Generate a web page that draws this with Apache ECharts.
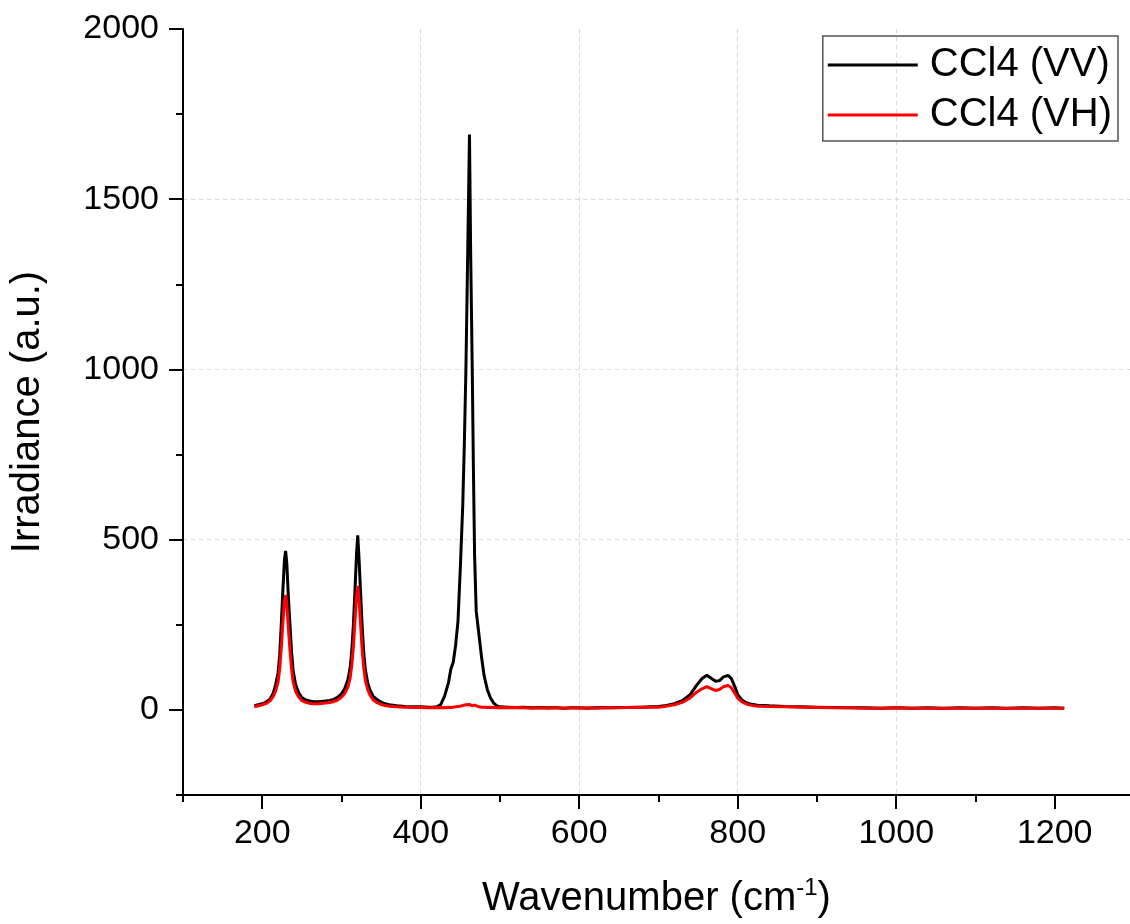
<!DOCTYPE html>
<html>
<head>
<meta charset="utf-8">
<script src="https://cdn.jsdelivr.net/npm/echarts@6/dist/echarts.min.js"></script>
<style>
html,body{margin:0;padding:0;background:#fff;}
#chart{width:1130px;height:924px;}
</style>
</head>
<body>
<div id="chart"></div>
<script>
const wavenumber = [190,195,200,205,210,214,217,220,222,224,226,228,229.5,231,233,235,237,239,242,246,250,255,260,265,270,275,280,285,290,295,300,304,308,311,313,315,317,319,320.5,322,324,326,328,330,333,336,340,345,350,355,360,370,380,390,400,410,415,420,425,430,435,438,441,444,447,450,453,455,457,459,461.5,463,465,466.5,468,470,472,474,477,480,484,488,492,496,500,510,520,530,540,550,560,570,580,590,600,610,620,630,640,650,660,670,680,690,700,710,720,730,740,748,755,761,767,772,777,782,788,792,796,800,805,810,816,825,840,860,880,900,920,940,960,980,1000,1020,1040,1060,1080,1100,1120,1140,1160,1180,1200,1212];

const ccl4VV = [12,15,18,23,32,50,75,110,160,250,350,440,467,430,330,250,170,115,75,50,36,29,26,24,24,25,26,28,31,37,47,62,88,125,175,250,350,460,513,450,350,250,170,120,80,58,40,30,23,18,15,12,10,9,9,8,8,9,15,40,80,120,140,190,260,420,600,780,1000,1300,1690,1340,1000,700,450,290,250,210,150,100,60,35,20,12,9,8,7,8,6,7,6,7,5,6,6,5,6,7,6,7,7,8,8,9,10,13,18,27,45,72,92,102,92,84,86,97,101,92,70,45,30,22,17,14,12,10,9,8,7,6,6,5,6,5,6,5,6,5,6,5,6,5,6,5];

const ccl4VH = [9,12,15,19,27,40,56,82,120,180,255,320,337,310,240,175,120,82,55,38,27,22,19,18,18,19,20,22,24,29,37,48,66,95,130,185,260,335,364,330,255,180,125,88,60,43,29,21,16,13,11,9,8,7,7,6,7,6,7,6,8,7,8,9,10,11,13,14,15,17,16,14,12,15,14,11,10,9,8,8,7,8,7,6,7,6,7,6,5,6,5,6,5,6,5,6,5,6,6,6,7,7,8,8,8,11,15,22,35,52,62,68,62,57,60,68,72,65,50,34,24,18,14,11,10,9,8,7,6,6,5,5,6,5,5,4,5,5,5,4,5,5,5,5];

const seriesNames = ['CCl4 (VV)', 'CCl4 (VH)'];
const xMajorTicks = [200,400,600,800,1000,1200];
const xMinorTicks = [100,300,500,700,900,1100];
const yMajorTicks = [0,500,1000,1500,2000];
const yMinorTicks = [-250,250,750,1250,1750];

const FONT = '"Liberation Sans", Arial, sans-serif';
const axisLineStyle = {color:'#000', width:2};
const gridLineStyle = {type:[4,4], color:'#d8d8d8', width:1};
const plain = v => String(v);

function pairs(xs, ys){ return xs.map((x,i)=>[x, ys[i]]); }

const chart = echarts.init(document.getElementById('chart'), null, {renderer:'canvas'});
chart.setOption({
  animation:false,
  backgroundColor:'#fff',
  grid:{left:182, top:29, right:0, bottom:127, containLabel:false},
  legend:{
    data:seriesNames,
    orient:'vertical',
    right:12, top:36,
    icon:'rect', itemWidth:90, itemHeight:3, itemGap:4,
    padding:[6,6,3,5],
    borderColor:'#555', borderWidth:1.5,
    textStyle:{fontSize:40, lineHeight:46, color:'#000', fontFamily:FONT, padding:[0,0,0,7]}
  },
  xAxis:[
    {
      type:'value', min:100, max:1295, interval:100,
      axisLine:{show:true, onZero:false, lineStyle:axisLineStyle},
      axisTick:{show:true, customValues:xMajorTicks, length:14, lineStyle:axisLineStyle},
      axisLabel:{customValues:xMajorTicks, formatter:plain, fontSize:34, color:'#000', fontFamily:FONT, margin:22},
      splitLine:{show:true, showMinLine:false, showMaxLine:false, lineStyle:gridLineStyle},
      name:'{a|Wavenumber (cm}{s|-1}{a|)}',
      nameLocation:'middle', nameGap:81,
      nameTextStyle:{
        rich:{
          a:{fontSize:40, lineHeight:46, color:'#000', fontFamily:FONT},
          s:{fontSize:24, lineHeight:24, color:'#000', fontFamily:FONT, verticalAlign:'top'}
        }
      }
    },
    {
      type:'value', min:100, max:1295, interval:100, position:'bottom',
      axisLine:{show:false, onZero:false},
      axisTick:{show:true, customValues:xMinorTicks, length:7, lineStyle:axisLineStyle},
      axisLabel:{show:false},
      splitLine:{show:false}
    }
  ],
  yAxis:[
    {
      type:'value', min:-250, max:2000, interval:250,
      axisLine:{show:true, onZero:false, lineStyle:axisLineStyle},
      axisTick:{show:true, customValues:yMajorTicks, length:14, lineStyle:axisLineStyle},
      axisLabel:{customValues:yMajorTicks, formatter:plain, fontSize:34, color:'#000', fontFamily:FONT, margin:24},
      splitLine:{show:true, showMinLine:false, showMaxLine:false, lineStyle:gridLineStyle},
      name:'Irradiance (a.u.)',
      nameLocation:'middle', nameGap:135,
      nameTextStyle:{fontSize:40, color:'#000', fontFamily:FONT}
    },
    {
      type:'value', min:-250, max:2000, interval:250, position:'left',
      axisLine:{show:false, onZero:false},
      axisTick:{show:true, customValues:yMinorTicks, length:7, lineStyle:axisLineStyle},
      axisLabel:{show:false},
      splitLine:{show:false}
    }
  ],
  series:[
    {
      name:seriesNames[0], type:'line', xAxisIndex:0, yAxisIndex:0,
      data:pairs(wavenumber, ccl4VV),
      showSymbol:false, symbol:'none',
      lineStyle:{color:'#000', width:3}, itemStyle:{color:'#000'}
    },
    {
      name:seriesNames[1], type:'line', xAxisIndex:0, yAxisIndex:0,
      data:pairs(wavenumber, ccl4VH),
      showSymbol:false, symbol:'none',
      lineStyle:{color:'#ff0000', width:3}, itemStyle:{color:'#ff0000'}
    }
  ]
});
</script>
</body>
</html>
